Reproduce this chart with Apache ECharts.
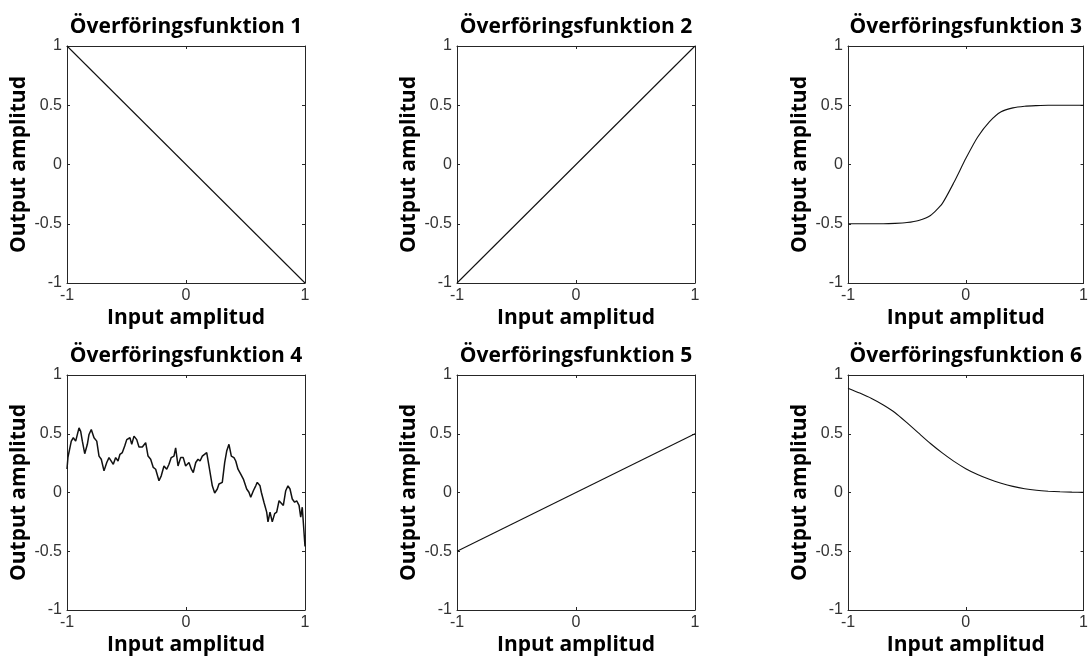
<!DOCTYPE html>
<html>
<head>
<meta charset="utf-8">
<script src="https://cdn.jsdelivr.net/npm/echarts@6/dist/echarts.min.js"></script>
<style>
html,body{margin:0;padding:0;background:#fff;}
#chart{width:1091px;height:657px;}
</style>
</head>
<body>
<div id="chart"></div>
<script>
// ---- data ----
const titles = ['Överföringsfunktion 1','Överföringsfunktion 2','Överföringsfunktion 3','Överföringsfunktion 4','Överföringsfunktion 5','Överföringsfunktion 6'];
const xName = 'Input amplitud';
const yName = 'Output amplitud';

const line1X = [-1, 1];
const line1Y = [1, -1];
const line2X = [-1, 1];
const line2Y = [-1, 1];
const line5X = [-1, 1];
const line5Y = [-0.5, 0.5];

const curveX = [-1,-0.9,-0.8,-0.7,-0.6,-0.5,-0.4,-0.3,-0.2,-0.1,0,0.1,0.2,0.3,0.4,0.5,0.6,0.7,0.8,0.9,1];
const curve3Y = [-0.5,-0.5,-0.5,-0.5,-0.497,-0.49,-0.472,-0.43,-0.33,-0.15,0.05,0.23,0.36,0.445,0.478,0.492,0.497,0.5,0.5,0.5,0.5];
const curve6Y = [0.888,0.846,0.8,0.745,0.679,0.594,0.505,0.417,0.337,0.265,0.203,0.153,0.112,0.079,0.052,0.032,0.019,0.011,0.006,0.003,0.001];

const noiseX = [-1,-0.992,-0.964,-0.947,-0.927,-0.899,-0.885,-0.871,-0.851,-0.829,-0.815,-0.796,-0.773,-0.750,-0.731,-0.712,-0.689,-0.666,-0.647,-0.633,-0.611,-0.591,-0.571,-0.555,-0.535,-0.515,-0.498,-0.471,-0.456,-0.437,-0.414,-0.395,-0.367,-0.339,-0.319,-0.297,-0.275,-0.255,-0.227,-0.208,-0.185,-0.162,-0.143,-0.124,-0.101,-0.087,-0.067,-0.045,-0.023,-0.003,0.025,0.045,0.061,0.082,0.101,0.118,0.137,0.151,0.174,0.193,0.221,0.241,0.263,0.277,0.305,0.325,0.342,0.361,0.381,0.403,0.418,0.437,0.460,0.482,0.510,0.529,0.544,0.566,0.586,0.599,0.622,0.633,0.655,0.678,0.689,0.706,0.725,0.745,0.762,0.782,0.796,0.818,0.838,0.857,0.874,0.893,0.913,0.930,0.950,0.964,0.977,0.992,1];
const noiseY = [0.20,0.30,0.437,0.466,0.437,0.55,0.52,0.437,0.33,0.41,0.494,0.536,0.466,0.437,0.31,0.283,0.184,0.255,0.297,0.31,0.24,0.297,0.268,0.325,0.34,0.395,0.45,0.466,0.41,0.48,0.45,0.387,0.387,0.424,0.31,0.283,0.213,0.198,0.1,0.142,0.226,0.198,0.24,0.297,0.31,0.38,0.226,0.297,0.297,0.226,0.255,0.198,0.17,0.255,0.283,0.268,0.31,0.297,0.34,0.226,0.057,-0.004,0.03,0.072,0.086,0.255,0.353,0.41,0.31,0.297,0.268,0.198,0.156,0.114,0.03,0.002,-0.04,0.015,0.057,0.086,0.057,0.002,-0.083,-0.167,-0.25,-0.167,-0.25,-0.18,-0.167,-0.07,-0.083,-0.11,0.015,0.057,0.03,-0.055,-0.083,-0.07,-0.11,-0.21,-0.125,-0.14,-0.46];

const seriesX = [line1X, line2X, curveX, noiseX, line5X, curveX];
const seriesY = [line1Y, line2Y, curve3Y, noiseY, line5Y, curve6Y];

// ---- layout ----
const colLeft = [67, 457, 848];
const rowTop = [46, 375];
const W = 238, H = 237;
const frame = '#262626';
const nameFont = {fontFamily:'Open Sans', fontWeight:'bold', fontSize:21, color:'#000'};
const tickFont = {fontFamily:'Liberation Sans', fontSize:16, color:'#333'};

const grids=[], xAxes=[], yAxes=[], series=[];
for (let i=0;i<6;i++){
  const r = Math.floor(i/3), c = i%3;
  grids.push({left:colLeft[c], top:rowTop[r], width:W, height:H, containLabel:false});
  const baseX = {type:'value', gridIndex:i, min:-1, max:1, interval:1,
    axisLine:{show:true, onZero:false, lineStyle:{color:frame, width:1}},
    axisTick:{show:true, inside:true, length:3, lineStyle:{color:frame}},
    splitLine:{show:false}};
  xAxes.push(Object.assign({}, baseX, {position:'bottom',
    axisLabel:Object.assign({show:true, margin:5}, tickFont),
    name:xName, nameLocation:'middle', nameGap:25, nameTextStyle:nameFont}));
  xAxes.push(Object.assign({}, baseX, {position:'top', axisLabel:{show:false},
    name:titles[i], nameLocation:'middle', nameGap:8, nameTextStyle:nameFont}));
  const baseY = {type:'value', gridIndex:i, min:-1, max:1, interval:0.5,
    axisLine:{show:true, onZero:false, lineStyle:{color:frame, width:1}},
    axisTick:{show:true, inside:true, length:3, lineStyle:{color:frame}},
    splitLine:{show:false}};
  yAxes.push(Object.assign({}, baseY, {position:'left',
    axisLabel:Object.assign({show:true, margin:5}, tickFont),
    name:yName, nameLocation:'middle', nameGap:37, nameRotate:90, nameTextStyle:nameFont}));
  yAxes.push(Object.assign({}, baseY, {position:'right', axisLabel:{show:false}}));
  const xs = seriesX[i], ys = seriesY[i];
  series.push({type:'line', xAxisIndex:2*i, yAxisIndex:2*i,
    data: xs.map((x,k)=>[x, ys[k]]),
    showSymbol:false, smooth: (i===2||i===5) ? 0.2 : false,
    lineStyle:{color:'#111', width: i===3 ? 1.5 : 1.1}, animation:false});
}

const chart = echarts.init(document.getElementById('chart'), null, {renderer:'canvas'});
chart.setOption({animation:false, backgroundColor:'#fff', grid:grids, xAxis:xAxes, yAxis:yAxes, series:series});
</script>
</body>
</html>
